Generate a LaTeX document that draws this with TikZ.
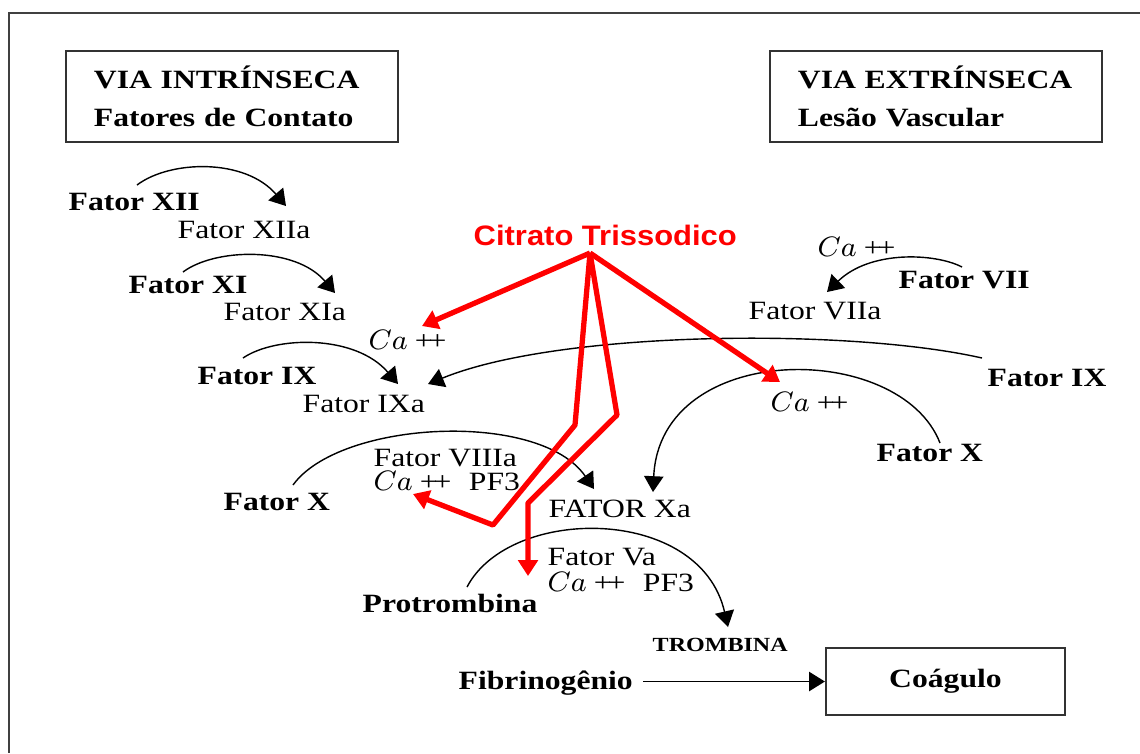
\documentclass[tikz,border=0pt]{standalone}
\usepackage{fontspec}
\setmainfont[FakeStretch=1.2]{Liberation Serif}
\newfontfamily\arialfont[FakeStretch=1.1]{Liberation Sans}
\usetikzlibrary{arrows.meta}
\newcommand{\calcio}{{\fontsize{8}{9}\selectfont\(Ca\)}\hspace{2pt}+\kern-1.2pt+}

\begin{document}
\begin{tikzpicture}[
  x=0.01cm, y=-0.01cm,
  font=\fontsize{7.5}{10.8}\selectfont,
  lbl/.style={anchor=west, inner sep=0pt},
  fb/.style={lbl, font=\fontsize{7.5}{10.8}\selectfont\bfseries},
  caixa/.style={draw=black!80, line width=0.6pt, minimum width=3.32cm, minimum height=0.91cm,
                text width=2.76cm, align=left, inner xsep=0.28cm,
                font=\fontsize{7.5}{10.8}\selectfont\bfseries},
  seta/.style={-{Triangle[length=4.5pt,width=5.5pt]}, line width=0.4pt},
  cit/.style={-{Triangle[length=4.5pt,width=5.5pt]}, red, line width=1.5pt, line join=round}
]
\useasboundingbox (0,0) rectangle (1140,753);
\draw[line width=0.7pt, black!75] (1140,13) -- (9,13) -- (9,753);

\node[caixa] (intr) at (232,96.5) {VIA INTRÍNSECA\\Fatores de Contato};
\node[caixa] (extr) at (936,96.5) {VIA EXTRÍNSECA\\Lesão Vascular};
\node[draw=black!80, line width=0.6pt, minimum width=2.39cm, minimum height=0.67cm,
      font=\fontsize{7.5}{10.8}\selectfont\bfseries] (coag) at (945.5,681.5) {Coágulo};

\node[fb] (f12) at (68,202) {Fator XII};
\node[lbl] (f12a) at (177,230) {Fator XIIa};
\node[fb] (f11) at (128,285) {Fator XI};
\node[lbl] (f11a) at (223,312) {Fator XIa};
\node[lbl] (ca1) at (368,340) {\calcio};
\node[fb] (f9) at (197,376) {Fator IX};
\node[lbl] (f9a) at (302,404) {Fator IXa};
\node[fb] (f10l) at (223,502) {Fator X};
\node[lbl] (f8a) at (373,458) {Fator VIIIa};
\node[lbl] (ca2) at (373,481) {\calcio\hspace{5pt}PF3};
\node[lbl] (f10a) at (548,509) {FATOR Xa};
\node[lbl] (f5a) at (547,557) {Fator Va};
\node[lbl] (ca3) at (547,582) {\calcio\hspace{5pt}PF3};
\node[fb] (prot) at (362,603) {Protrombina};
\node[lbl, font=\fontsize{5.7}{7}\selectfont\bfseries] (trom) at (652,645) {TROMBINA};
\node[fb] (fib) at (458,683) {Fibrinogênio};
\node[lbl, font=\fontsize{8}{10}\selectfont\arialfont\bfseries, text=red] (citr) at (473,235)
  {Citrato Trissodico};
\node[lbl] (ca4) at (817,247) {\calcio};
\node[fb] (f7) at (898,280) {Fator VII};
\node[lbl] (f7a) at (748,311) {Fator VIIa};
\node[fb] (f9r) at (987,378) {Fator IX};
\node[lbl] (ca5) at (770,402) {\calcio};
\node[fb] (f10r) at (876,453) {Fator X};

\coordinate (s12) at (137,185);  \coordinate (e12) at (286,206);
\coordinate (s11) at (183,272);  \coordinate (e11) at (335,293);
\coordinate (s9) at (243,358);   \coordinate (e9) at (398,384);
\coordinate (s7) at (962,267);   \coordinate (e7) at (827,292);
\coordinate (s9r) at (982,358);  \coordinate (e9r) at (428,384);
\coordinate (s10l) at (293,485); \coordinate (e10l) at (594,489);
\coordinate (s10r) at (940,443); \coordinate (e10r) at (653,492);
\coordinate (sp) at (467,587);   \coordinate (ep) at (728,627);
\coordinate (fe) at (643,681.5);

\draw[seta] (s12) .. controls (170,160) and (245,158) .. (e12);
\draw[seta] (s11) .. controls (215,248) and (295,246) .. (e11);
\draw[seta] (s9) .. controls (275,336) and (355,334) .. (e9);
\draw[seta] (s7) .. controls (935,253) and (870,250) .. (e7);
\draw[seta] (s9r) .. controls (850,328) and (560,330) .. (e9r);
\draw[seta] (s10l) .. controls (340,420) and (540,410) .. (e10l);
\draw[seta] (s10r) .. controls (900,340) and (660,340) .. (e10r);
\draw[seta] (sp) .. controls (510,505) and (700,505) .. (ep);
\draw[seta] (fe) -- (coag.west);

\coordinate (o) at (590,253);
\coordinate (tca1) at (422,326);
\coordinate (tca5) at (780,382);
\coordinate (tca2) at (413,494);
\coordinate (tca3) at (528,576);
\draw[cit] (o) -- (tca1);
\draw[cit] (o) -- (tca5);
\draw[cit] (o) -- (575,425) -- (493,525) -- (tca2);
\draw[cit] (o) -- (617,415) -- (528,503) -- (tca3);
\end{tikzpicture}
\end{document}
